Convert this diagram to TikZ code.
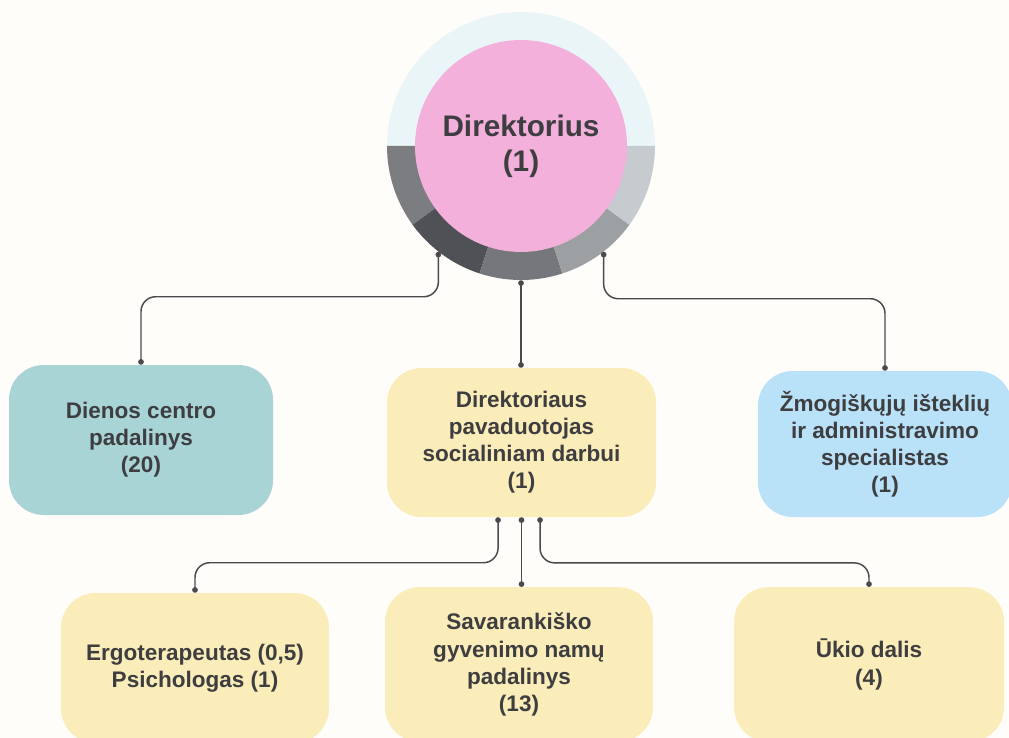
\documentclass[tikz,border=0pt]{standalone}
\usepackage{fontspec}
\setmainfont{Liberation Sans}
\usetikzlibrary{arrows.meta,calc,positioning}
\definecolor{bgcream}{HTML}{FEFDFA}
\definecolor{txtgray}{HTML}{3E3E41}
\definecolor{linegray}{HTML}{4A4A4C}
\definecolor{pinkcore}{HTML}{F2B0DA}
\definecolor{ringtop}{HTML}{EAF5F8}
\definecolor{ringa}{HTML}{7C7D81}
\definecolor{ringb}{HTML}{505156}
\definecolor{ringc}{HTML}{76777C}
\definecolor{ringd}{HTML}{9DA0A3}
\definecolor{ringe}{HTML}{C5CBCE}
\definecolor{tealbox}{HTML}{A9D4D6}
\definecolor{yellowbox}{HTML}{FAEDB9}
\definecolor{bluebox}{HTML}{B9E1F8}
\tikzset{
  unit/.style={rounded corners=26pt, inner sep=0pt, align=center, text=txtgray,
    font=\bfseries\fontsize{16.9}{20.3}\selectfont},
  core/.style={circle, fill=pinkcore, minimum size=159pt, inner sep=0pt, align=center,
    text=txtgray, font=\bfseries\fontsize{22.3}{26}\selectfont},
  link/.style={draw=linegray, line width=1.1pt, rounded corners=11pt,
    {Circle[length=4.2pt]}-{Circle[length=4.2pt]}}
}

\begin{document}
\begin{tikzpicture}[x=0.75pt,y=-0.75pt]
  \useasboundingbox (0,0) rectangle (1009,738);
  \clip (0,0) rectangle (1009,738);
  \fill[bgcream] (0,0) rectangle (1009,738);

  % director ring (y axis points down, so the lower half is 0..180)
  \coordinate (c) at (521,146);
  \fill[ringtop] (c) -- ++(180:134) arc[start angle=180, end angle=360, radius=134] -- cycle;
  \fill[ringa] (c) -- ++(144:134) arc[start angle=144, end angle=180, radius=134] -- cycle;
  \fill[ringb] (c) -- ++(108:134) arc[start angle=108, end angle=144, radius=134] -- cycle;
  \fill[ringc] (c) -- ++(72:134) arc[start angle=72, end angle=108, radius=134] -- cycle;
  \fill[ringd] (c) -- ++(36:134) arc[start angle=36, end angle=72, radius=134] -- cycle;
  \fill[ringe] (c) -- ++(0:134) arc[start angle=0, end angle=36, radius=134] -- cycle;
  \node[circle, minimum size=201pt, inner sep=0pt] (ring) at (c) {};
  \node[core] (dir) at (c) {Direktorius\\(1)};

  % first level
  \node[unit, fill=tealbox, minimum width=198pt, minimum height=112.5pt] (dcp) at (141,440)
    {Dienos centro\\padalinys\\(20)};
  \node[unit, fill=yellowbox, minimum width=201.75pt, minimum height=111.75pt] (pav) at (521.5,442.5)
    {Direktoriaus\\pavaduotojas\\socialiniam darbui\\(1)};
  \node[unit, fill=bluebox, minimum width=190.5pt, minimum height=109.5pt] (hr) at (885,444)
    {Žmogiškųjų išteklių\\ir administravimo\\specialistas\\(1)};

  % second level
  \node[unit, fill=yellowbox, minimum width=201pt, minimum height=112.5pt] (ergo) at (195,668)
    {Ergoterapeutas (0,5)\\Psichologas (1)};
  \node[unit, fill=yellowbox, minimum width=201pt, minimum height=116pt] (sav) at (519,664.5)
    {Savarankiško\\gyvenimo namų\\padalinys\\(13)};
  \node[unit, fill=yellowbox, minimum width=202.5pt, minimum height=116pt] (ukio) at (869,664.5)
    {Ūkio dalis\\(4)};

  \draw[link] (ring.232) |- ([yshift=51pt]dcp.north) -- (dcp.north);
  \draw[link] (ring.south) -- (ring.south |- pav.north);
  \draw[link] (ring.308) |- ([yshift=54pt]hr.north) -- (hr.north);

  \draw[link] ([xshift=-17.6pt]pav.south) |- ([yshift=22.5pt]ergo.north) -- (ergo.north);
  \draw[link] (pav.south) -- (pav.south |- sav.north);
  \draw[link] ([xshift=13.9pt]pav.south) |- ([yshift=18pt]ukio.north) -- (ukio.north);
\end{tikzpicture}
\end{document}
